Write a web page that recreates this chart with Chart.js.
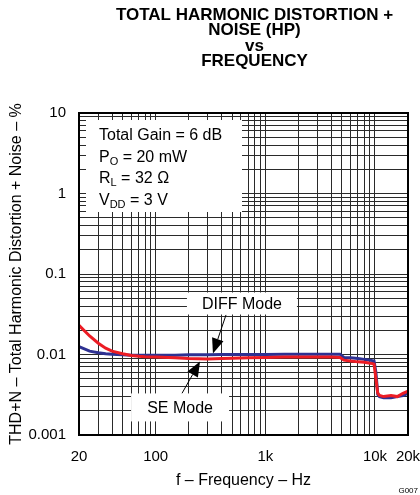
<!DOCTYPE html>
<html>
<head>
<meta charset="utf-8">
<script src="https://cdn.jsdelivr.net/npm/chart.js@4.4.1/dist/chart.umd.min.js"></script>
<style>
  html, body { margin: 0; padding: 0; background: #fff; }
  #wrap { width: 420px; height: 495px; position: relative; }
</style>
</head>
<body>
<div id="wrap"><canvas id="thd"></canvas></div>
<script>
// Frecuencias (Hz) y THD+N (%)
const freqs = [20, 25, 30, 35, 40, 50, 60, 70, 80, 100, 150, 200, 300, 400, 500, 700,
  1000, 1500, 2000, 3000, 4000, 4800, 5200, 6000, 7000, 8000, 9000, 9500, 9800,
  10200, 10600, 11000, 12000, 14000, 16000, 18000, 20000];
const diffMode = [0.023, 0.017, 0.0138, 0.012, 0.011, 0.0102, 0.0097, 0.0095, 0.0094, 0.0093,
  0.0091, 0.0089, 0.0088, 0.0089, 0.009, 0.0091, 0.0092, 0.0093, 0.0093, 0.0093, 0.0093,
  0.0092, 0.0085, 0.0083, 0.0081, 0.008, 0.0078, 0.0077, 0.0076, 0.005, 0.0033, 0.0031,
  0.003, 0.0031, 0.003, 0.0033, 0.0035];
const seMode = [0.0125, 0.011, 0.0105, 0.0102, 0.0101, 0.0099, 0.0098, 0.0098, 0.0098, 0.0098,
  0.0098, 0.0099, 0.0099, 0.01, 0.01, 0.01, 0.01, 0.0101, 0.0101, 0.0101, 0.0101,
  0.0101, 0.0092, 0.0091, 0.0089, 0.0087, 0.0085, 0.0084, 0.0083, 0.006, 0.0032, 0.003,
  0.0029, 0.0029, 0.003, 0.0031, 0.0033];

// Etiquetas de los ejes
const xTickLabels = {20: '20', 100: '100', 1000: '1k', 10000: '10k', 20000: '20k'};
const yTickLabels = {0.001: '0.001', 0.01: '0.01', 0.1: '0.1', 1: '1', 10: '10'};
const titleLines = ['TOTAL HARMONIC DISTORTION +', 'NOISE (HP)', 'vs', 'FREQUENCY'];
const conditions = [
  ['Total Gain = 6 dB', ''],
  ['P', 'O', ' = 20 mW'],
  ['R', 'L', ' = 32 Ω'],
  ['V', 'DD', ' = 3 V']
];

const FONT = '"Liberation Sans", Arial, Helvetica, sans-serif';

// Lineas de rejilla: 1..9 por decada
function decadeGrid(min, max) {
  const out = [];
  for (let d = Math.pow(10, Math.floor(Math.log10(min))); d < max * 1.001; d *= 10) {
    for (let k = 1; k <= 9; k++) {
      const v = Math.round(d * k * 1e6) / 1e6;
      if (v >= min * 0.999 && v <= max * 1.001) out.push(v);
    }
  }
  return out;
}

// Dibuja flecha con punta rellena
function arrow(ctx, x1, y1, x2, y2) {
  const ang = Math.atan2(y2 - y1, x2 - x1);
  const len = 15, half = 6;
  ctx.save();
  ctx.strokeStyle = '#000';
  ctx.fillStyle = '#000';
  ctx.lineWidth = 1;
  ctx.beginPath();
  ctx.moveTo(x1, y1);
  ctx.lineTo(x2 - Math.cos(ang) * len, y2 - Math.sin(ang) * len);
  ctx.stroke();
  ctx.beginPath();
  ctx.moveTo(x2, y2);
  ctx.lineTo(x2 - Math.cos(ang) * len - Math.sin(ang) * half, y2 - Math.sin(ang) * len + Math.cos(ang) * half);
  ctx.lineTo(x2 - Math.cos(ang) * len + Math.sin(ang) * half, y2 - Math.sin(ang) * len - Math.cos(ang) * half);
  ctx.closePath();
  ctx.fill();
  ctx.restore();
}

function labelBox(ctx, text, cx, cy, w, h) {
  ctx.fillStyle = '#fff';
  ctx.fillRect(cx - w / 2, cy - h / 2, w, h);
  ctx.fillStyle = '#000';
  ctx.font = '16px ' + FONT;
  ctx.textAlign = 'center';
  ctx.textBaseline = 'middle';
  ctx.fillText(text, cx, cy + 1);
}

const extras = {
  id: 'extras',
  afterDatasetsDraw(chart) {
    const ctx = chart.ctx;
    const a = chart.chartArea;
    const xs = chart.scales.x, ys = chart.scales.y;
    ctx.save();

    // Recuadro de condiciones
    ctx.fillStyle = '#fff';
    ctx.fillRect(a.left + 7, a.top + 7, 156, 92);
    ctx.fillStyle = '#000';
    ctx.textAlign = 'left';
    ctx.textBaseline = 'middle';
    conditions.forEach(function(c, i) {
      let x = a.left + 20;
      const y = a.top + 23 + i * 21.5;
      ctx.font = '16px ' + FONT;
      ctx.fillText(c[0], x, y);
      x += ctx.measureText(c[0]).width;
      if (c.length > 2) {
        ctx.font = '11px ' + FONT;
        ctx.fillText(c[1], x, y + 4);
        x += ctx.measureText(c[1]).width;
        ctx.font = '16px ' + FONT;
        ctx.fillText(c[2], x, y);
      }
    });

    // DIFF Mode
    labelBox(ctx, 'DIFF Mode', xs.getPixelForValue(612), ys.getPixelForValue(0.043), 110, 22);
    arrow(ctx, xs.getPixelForValue(438), ys.getPixelForValue(0.031),
      xs.getPixelForValue(333), ys.getPixelForValue(0.0103));
    // SE Mode
    labelBox(ctx, 'SE Mode', xs.getPixelForValue(167), ys.getPixelForValue(0.0022), 98, 28);
    arrow(ctx, xs.getPixelForValue(174), ys.getPixelForValue(0.0033),
      xs.getPixelForValue(254), ys.getPixelForValue(0.0082));

    // Borde del grafico
    ctx.strokeStyle = '#000';
    ctx.lineWidth = 2;
    ctx.strokeRect(a.left, a.top, a.right - a.left, a.bottom - a.top);
    ctx.restore();
  },
  afterDraw(chart) {
    const ctx = chart.ctx;
    const a = chart.chartArea;
    ctx.save();
    ctx.fillStyle = '#000';
    ctx.textAlign = 'center';
    ctx.textBaseline = 'middle';
    ctx.font = 'bold 17px ' + FONT;
    const cx = (a.left + a.right) / 2 + 11;
    titleLines.forEach(function(t, i) {
      ctx.fillText(t, cx, 15 + i * 15.5);
    });
    ctx.font = '8px ' + FONT;
    ctx.textAlign = 'right';
    ctx.fillText('G007', 418, 491);
    ctx.restore();
  }
};

new Chart(document.getElementById('thd'), {
  type: 'line',
  data: {
    labels: freqs,
    datasets: [
      {
        label: 'DIFF Mode',
        data: freqs.map((f, i) => ({x: f, y: diffMode[i]})),
        borderColor: '#ec1c24',
        borderWidth: 3,
        pointRadius: 0,
        tension: 0,
        fill: false
      },
      {
        label: 'SE Mode',
        data: freqs.map((f, i) => ({x: f, y: seMode[i]})),
        borderColor: '#2e3192',
        borderWidth: 3,
        pointRadius: 0,
        tension: 0,
        fill: false
      }
    ]
  },
  options: {
    responsive: true,
    maintainAspectRatio: false,
    animation: false,
    layout: { padding: { top: 113, right: 12, left: 0, bottom: 0 } },
    plugins: {
      legend: { display: false },
      tooltip: { enabled: false },
      title: { display: false }
    },
    scales: {
      x: {
        type: 'logarithmic',
        min: 20,
        max: 20000,
        afterBuildTicks: function(scale) {
          scale.ticks = decadeGrid(20, 20000).filter(v => v >= 20).map(v => ({value: v}));
        },
        afterFit: function(scale) {
          scale.height = 60;
          scale.paddingLeft = 0;
          scale.paddingRight = 0;
        },
        border: { display: false },
        grid: { color: '#2a2a2a', lineWidth: 1, drawTicks: false },
        ticks: {
          autoSkip: false,
          maxRotation: 0,
          padding: 13,
          color: '#000',
          font: { family: FONT, size: 15 },
          callback: function(v) { return xTickLabels[v] || ''; }
        },
        title: {
          display: true,
          text: 'f – Frequency – Hz',
          color: '#000',
          font: { family: FONT, size: 16 },
          padding: { top: 0, bottom: 5 }
        }
      },
      y: {
        type: 'logarithmic',
        min: 0.001,
        max: 10,
        afterBuildTicks: function(scale) {
          scale.ticks = decadeGrid(0.001, 10).map(v => ({value: v}));
        },
        afterFit: function(scale) { scale.width = 79; },
        border: { display: false },
        grid: { color: '#2a2a2a', lineWidth: 1, drawTicks: false },
        ticks: {
          autoSkip: false,
          padding: 13,
          color: '#000',
          font: { family: FONT, size: 15 },
          callback: function(v) { return yTickLabels[v] || ''; }
        },
        title: {
          display: true,
          text: 'THD+N – Total Harmonic Distortion + Noise – %',
          color: '#000',
          font: { family: FONT, size: 16 },
          padding: { top: 7, bottom: 0 }
        }
      }
    }
  },
  plugins: [extras]
});
</script>
</body>
</html>
